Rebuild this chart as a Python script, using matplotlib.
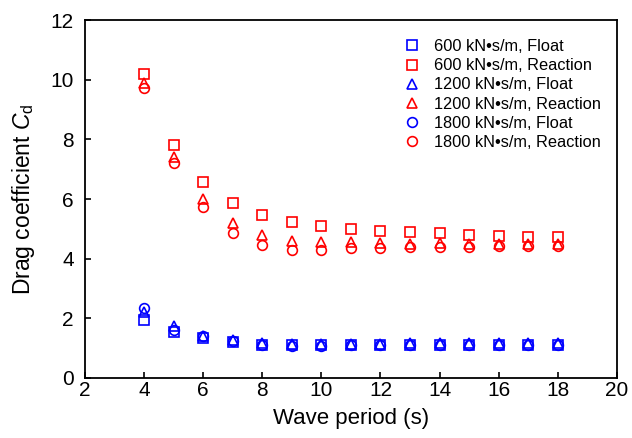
import matplotlib
matplotlib.use("Agg")
import matplotlib.pyplot as plt

plt.rcParams['font.family'] = ['Liberation Sans', 'DejaVu Sans']
plt.rcParams['mathtext.fontset'] = 'custom'
plt.rcParams['mathtext.rm'] = 'Liberation Sans'
plt.rcParams['mathtext.it'] = 'Liberation Sans:italic'

periods = [4, 5, 6, 7, 8, 9, 10, 11, 12, 13, 14, 15, 16, 17, 18]

float_600 = [1.94, 1.55, 1.35, 1.22, 1.12, 1.10, 1.10, 1.12, 1.12, 1.12, 1.12, 1.12, 1.12, 1.12, 1.12]
reaction_600 = [10.21, 7.82, 6.56, 5.86, 5.47, 5.24, 5.10, 4.99, 4.93, 4.88, 4.85, 4.79, 4.77, 4.74, 4.72]
float_1200 = [2.22, 1.75, 1.42, 1.27, 1.17, 1.14, 1.14, 1.15, 1.15, 1.16, 1.16, 1.16, 1.16, 1.16, 1.16]
reaction_1200 = [9.88, 7.40, 6.00, 5.19, 4.79, 4.61, 4.57, 4.56, 4.52, 4.49, 4.52, 4.49, 4.48, 4.48, 4.48]
float_1800 = [2.36, 1.62, 1.40, 1.24, 1.12, 1.08, 1.08, 1.11, 1.12, 1.12, 1.12, 1.12, 1.12, 1.12, 1.12]
reaction_1800 = [9.71, 7.20, 5.74, 4.87, 4.46, 4.29, 4.29, 4.35, 4.35, 4.38, 4.40, 4.40, 4.41, 4.42, 4.42]

labels = ["600 kN\u2022s/m, Float", "600 kN\u2022s/m, Reaction",
          "1200 kN\u2022s/m, Float", "1200 kN\u2022s/m, Reaction",
          "1800 kN\u2022s/m, Float", "1800 kN\u2022s/m, Reaction"]

fig = plt.figure(figsize=(6.32, 4.38), dpi=100)
ax = fig.add_axes([0.1345, 0.137, 0.8415, 0.817])

series = [
    (float_600, 's', '#0000FF', 6.5),
    (reaction_600, 's', '#FF0000', 6.5),
    (float_1200, '^', '#0000FF', 7.5),
    (reaction_1200, '^', '#FF0000', 7.5),
    (float_1800, 'o', '#0000FF', 7),
    (reaction_1800, 'o', '#FF0000', 7),
]
for (vals, mk, col, ms), lab in zip(series, labels):
    ax.plot(periods, vals, linestyle='none', marker=mk, markersize=ms,
            markerfacecolor='none', markeredgecolor=col, markeredgewidth=1.2,
            label=lab)

ax.set_xlim(2, 20)
ax.set_ylim(0, 12)
ax.set_xticks(range(2, 21, 2))
ax.set_yticks(range(0, 13, 2))
ax.tick_params(direction='in', length=4, width=1.2, labelsize=15,
               top=False, right=False)
ax.tick_params(axis='x', pad=2)
ax.tick_params(axis='y', pad=8)
for s in ax.spines.values():
    s.set_linewidth(1.3)

ax.set_xlabel("Wave period (s)", fontsize=16, labelpad=6)
ax.set_ylabel(r"Drag coefficient $\mathit{C}_\mathrm{d}$", fontsize=16.5, labelpad=10)

leg = ax.legend(loc='upper left', bbox_to_anchor=(0.587, 0.965), frameon=False,
                fontsize=11.8, handlelength=1.0, handletextpad=0.85,
                labelspacing=0.25, borderaxespad=0)

fig.savefig("out.png", dpi=100)
